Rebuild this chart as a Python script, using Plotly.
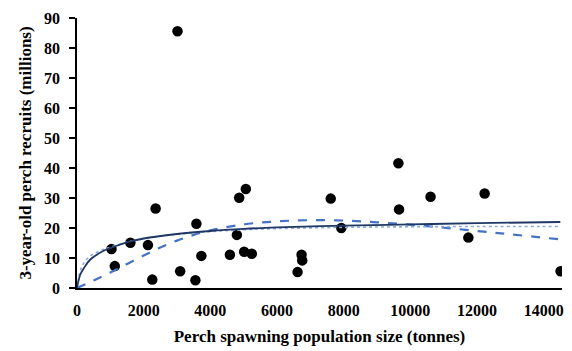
import plotly.graph_objects as go

# Observed data: spawning stock (tonnes) vs 3-year-old recruits (millions)
spawn_t = [3015, 1035, 1134, 1602, 2128, 2358, 3582, 3731, 3095, 2259, 3552,
           4587, 4866, 5065, 4796, 5015, 5244, 6617, 6737, 6756, 7612, 7930,
           9662, 10606, 12229, 11741, 14507, 9642]
recruits_m = [85.6, 13.0, 7.3, 15.1, 14.3, 26.5, 21.4, 10.7, 5.6, 2.8, 2.6,
              11.1, 30.1, 33.0, 17.7, 12.1, 11.4, 5.3, 11.1, 9.2, 29.8, 20.0,
              26.2, 30.4, 31.5, 16.8, 5.6, 41.6]

# Fitted curves
curve_x = [0, 100, 200, 400, 800, 1000, 1500, 2000, 3000, 4000, 5000, 6000,
           8000, 10000, 12000, 14500]
solid_y = [0, 4.5, 6.5, 9.5, 12.4, 13.3, 15.2, 16.5, 18.0, 19.0, 19.7, 20.2,
           20.8, 21.2, 21.6, 22.0]
dotted_y = [0, 5.8, 8.2, 10.7, 12.9, 13.6, 15.3, 16.5, 17.9, 18.8, 19.4, 19.8,
            20.2, 20.4, 20.5, 20.5]

dash_x = [0, 500, 1000, 1500, 2000, 2500, 3000, 3500, 4000, 5000, 6000, 7000,
          8000, 9000, 10000, 11000, 12000, 13000, 14500]
dash_y = [0, 2.5, 5.2, 8.0, 10.8, 13.5, 15.8, 17.7, 19.2, 21.2, 22.2, 22.6,
          22.5, 21.9, 21.1, 20.1, 19.0, 17.9, 16.2]

x_ticks = [0, 2000, 4000, 6000, 8000, 10000, 12000, 14000]
y_ticks = [0, 10, 20, 30, 40, 50, 60, 70, 80, 90]

font_family = "Liberation Serif"

fig = go.Figure()
fig.add_trace(go.Scatter(x=spawn_t, y=recruits_m, mode="markers",
                         marker=dict(color="black", size=10.5), showlegend=False))
fig.add_trace(go.Scatter(x=dash_x, y=dash_y, mode="lines", line_shape="spline",
                         line=dict(color="#4472C4", width=2.2, dash="dash"),
                         showlegend=False))
fig.add_trace(go.Scatter(x=curve_x, y=dotted_y, mode="lines", line_shape="spline",
                         line=dict(color="#8FAADC", width=1.6, dash="dot"),
                         showlegend=False))
fig.add_trace(go.Scatter(x=curve_x, y=solid_y, mode="lines", line_shape="spline",
                         line=dict(color="#1F3864", width=1.8),
                         showlegend=False))

fig.update_layout(
    width=572, height=351,
    margin=dict(l=77, r=8, t=18, b=58),
    paper_bgcolor="white", plot_bgcolor="white",
    font=dict(family=font_family, size=16, color="black"),
)
fig.update_xaxes(
    range=[0, 14550], tickvals=x_ticks, ticktext=[str(v) for v in x_ticks],
    showgrid=False, zeroline=False, showline=True, linecolor="black", linewidth=1.5,
    ticks="", ticklabelstandoff=7,
    tickfont=dict(family=font_family, size=16, weight="bold"),
    title=dict(text="<b>Perch spawning population size (tonnes)</b>",
               font=dict(family=font_family, size=17), standoff=12),
)
fig.update_yaxes(
    range=[0, 90], tickvals=y_ticks, ticktext=[str(v) for v in y_ticks],
    showgrid=False, zeroline=False, showline=True, linecolor="black", linewidth=1.5,
    ticks="outside", ticklen=6, tickcolor="black", tickwidth=1.5, ticklabelstandoff=6,
    tickfont=dict(family=font_family, size=16, weight="bold"),
    title=dict(text="<b>3-year-old perch recruits (millions)</b>",
               font=dict(family=font_family, size=17), standoff=8),
)

fig.write_html("out.html")
